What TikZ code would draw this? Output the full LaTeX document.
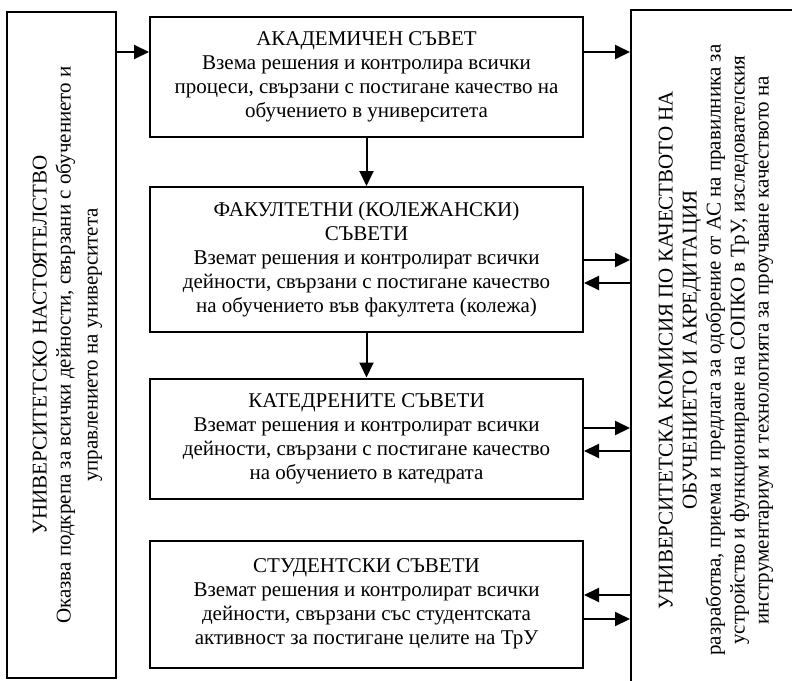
\documentclass[tikz,border=0pt]{standalone}
\usepackage{fontspec}
\setmainfont{Liberation Serif}
\usetikzlibrary{arrows.meta}
\begin{document}
\begin{tikzpicture}[x=1pt,y=-1pt,
  box/.style={draw,line width=2pt,align=center,inner sep=0pt,font=\fontsize{21}{24}\selectfont},
  arr/.style={line width=2pt,-{Triangle[length=15pt,width=14pt]}}]
\useasboundingbox (0,0) rectangle (792,680);
\node[box,rotate=90,minimum width=666pt,minimum height=109pt] (nast) at (61.5,345) {\rule{0pt}{26pt}УНИВЕРСИТЕТСКО НАСТОЯТЕЛСТВО\\Оказва подкрепа за всички дейности, свързани с обучението и\\[3pt]управлението на университета};
\node[box,rotate=90,minimum width=680pt,minimum height=170pt] (komisia) at (716,350) {УНИВЕРСИТЕТСКА КОМИСИЯ ПО КАЧЕСТВОТО НА\\ОБУЧЕНИЕТО И АКРЕДИТАЦИЯ\\разработва, приема и предлага за одобрение от АС на правилника за\\устройство и функциониране на СОПКО в ТрУ, изследователския\\инструментариум и технологията за проучване качеството на};
\node[box,minimum width=433pt,minimum height=120pt] (akad) at (366.5,77) {АКАДЕМИЧЕН СЪВЕТ\\Взема решения и контролира всички\\процеси, свързани с постигане качество на\\обучението в университета};
\node[box,minimum width=433pt,minimum height=145pt] (fak) at (366.5,259.5) {ФАКУЛТЕТНИ (КОЛЕЖАНСКИ)\\СЪВЕТИ\\Вземат решения и контролират всички\\дейности, свързани с постигане качество\\на обучението във факултета (колежа)};
\node[box,minimum width=433pt,minimum height=120pt] (kat) at (366.5,438.5) {КАТЕДРЕНИТЕ СЪВЕТИ\\Вземат решения и контролират всички\\дейности, свързани с постигане качество\\на обучението в катедрата};
\node[box,minimum width=433pt,minimum height=127pt] (stud) at (366.5,604) {СТУДЕНТСКИ СЪВЕТИ\\Вземат решения и контролират всички\\дейности, свързани със студентската\\активност за постигане целите на ТрУ};
\draw[arr] ([yshift=25pt]akad.west -| nast.south) -- ([yshift=25pt]akad.west);
\draw[arr] ([yshift=25pt]akad.east) -- ([yshift=25pt]akad.east -| komisia.north);
\draw[arr] (akad) -- (fak);
\draw[arr] (fak) -- (kat);
\draw[arr] ([yshift=-0.5pt]fak.east) -- ([yshift=-0.5pt]fak.east -| komisia.north);
\draw[arr] ([yshift=-23.5pt]fak.east -| komisia.north) -- ([yshift=-23.5pt]fak.east);
\draw[arr] ([yshift=10.5pt]kat.east) -- ([yshift=10.5pt]kat.east -| komisia.north);
\draw[arr] ([yshift=-12.5pt]kat.east -| komisia.north) -- ([yshift=-12.5pt]kat.east);
\draw[arr] ([yshift=9pt]stud.east -| komisia.north) -- ([yshift=9pt]stud.east);
\draw[arr] ([yshift=-15pt]stud.east) -- ([yshift=-15pt]stud.east -| komisia.north);
\end{tikzpicture}
\end{document}
